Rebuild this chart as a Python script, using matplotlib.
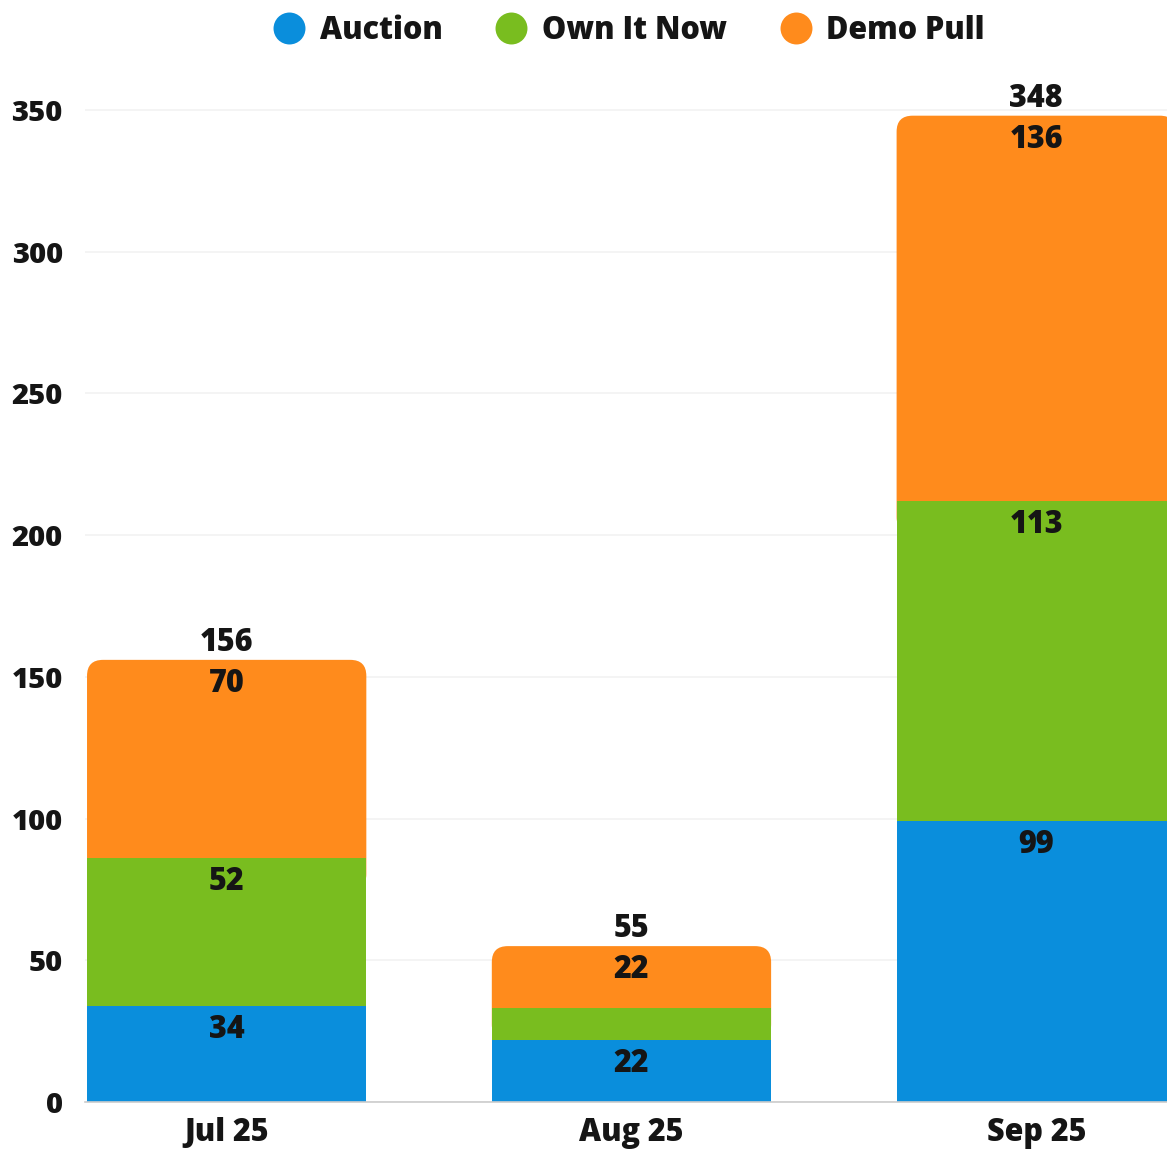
import matplotlib
matplotlib.use("Agg")
import matplotlib.pyplot as plt
from matplotlib.patches import FancyBboxPatch
from matplotlib.lines import Line2D
import numpy as np

months = ["Jul 25", "Aug 25", "Sep 25"]
auction = [34, 22, 99]
own_it_now = [52, 11, 113]
demo_pull = [70, 22, 136]
series_names = ["Auction", "Own It Now", "Demo Pull"]
colors = ["#0a8edc", "#79bd1f", "#ff8b1c"]
yticks = [0, 50, 100, 150, 200, 250, 300, 350]
show_label = [[True, True, True], [True, False, True], [True, True, True]]

plt.rcParams['font.family'] = ['Open Sans', 'DejaVu Sans']
W = 800
FS = 22
FSY = 21
TXT = "#151515"

fig = plt.figure(figsize=(11.67, 11.5), dpi=100)
ax = fig.add_axes([85/1167, 48/1150, 1 - 85/1167, (1102 - 67.5)/1150])
ax.set_xlim(-0.35, 2.323)
ax.set_ylim(0, 365)

x = np.arange(len(months))
width = 0.69
data = [auction, own_it_now, demo_pull]
bottoms = np.zeros(len(months))

px_per_y = (1102 - 67.5) / 365.0
px_per_x = 405.0
r_px = 16
for si, vals in enumerate(data):
    vals = np.array(vals, dtype=float)
    bars = ax.bar(x, vals, width, bottom=bottoms, color=colors[si], zorder=4 - si * 0.5,
                  linewidth=0)
    if si == len(data) - 1:
        for b in bars:
            bx, by, bw, bh = b.get_x(), b.get_y(), b.get_width(), b.get_height()
            b.set_visible(False)
            ry = r_px / px_per_y
            rx = r_px / px_per_x
            patch = FancyBboxPatch((bx, by - ry * 2), bw, bh + ry * 2,
                                   boxstyle=f"round,pad=0,rounding_size={rx}",
                                   mutation_aspect=ry / rx,
                                   facecolor=colors[si], linewidth=0, zorder=2)
            ax.add_patch(patch)
    for i, (v, btm) in enumerate(zip(vals, bottoms)):
        if show_label[i][si]:
            ax.annotate(f"{int(v)}", (x[i], btm + v), xytext=(0, -24), textcoords="offset pixels",
                        ha="center", va="center", fontsize=FS, fontweight=W,
                        color=TXT, zorder=10)
    bottoms = bottoms + vals

for i, tot in enumerate(bottoms):
    ax.annotate(f"{int(tot)}", (x[i], tot), xytext=(0, 17), textcoords="offset pixels",
                ha="center", va="center", fontsize=FS, fontweight=W, color=TXT, zorder=10)

ax.set_yticks(yticks)
ax.set_yticklabels([str(t) for t in yticks], fontsize=FSY, fontweight=W, color=TXT)
ax.set_xticks(x)
ax.set_xticklabels(months, fontsize=FS, fontweight=W, color=TXT)
ax.tick_params(axis="both", length=0)
ax.tick_params(axis="y", pad=16)
ax.tick_params(axis="x", pad=11)
for s in ["top", "right", "left"]:
    ax.spines[s].set_visible(False)
ax.spines["bottom"].set_color("#cccccc")
ax.spines["bottom"].set_linewidth(1.2)
ax.spines["bottom"].set_zorder(20)
ax.yaxis.grid(True, color="#f2f2f2", linewidth=1.2, zorder=0)
ax.set_axisbelow(True)

handles = [Line2D([0], [0], marker="o", linestyle="none", markersize=23,
                  markerfacecolor=c, markeredgewidth=0) for c in colors]
fig.legend(handles, series_names, loc="center", bbox_to_anchor=(0.5385, 1 - 31/1150),
           ncol=3, frameon=False, handlelength=1.1, handletextpad=0.45, columnspacing=1.7,
           prop={"size": FS, "weight": W}, labelcolor=TXT)

fig.savefig("out.png", dpi=100)
